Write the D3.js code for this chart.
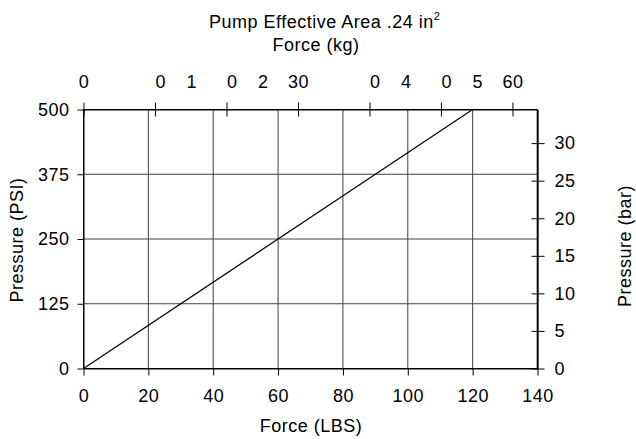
<!DOCTYPE html>
<html>
<head>
<meta charset="utf-8">
<script src="https://cdn.jsdelivr.net/npm/d3@7"></script>
<style>
  html, body { margin: 0; padding: 0; background: #fff; }
  svg text { font-family: "Liberation Sans", Arial, Helvetica, sans-serif; font-size: 18px; letter-spacing: 0.5px; fill: #000; }
</style>
</head>
<body>
<svg id="chart" width="636" height="439"></svg>
<script>
// ---- data ----
const forceLbs = [0, 120];
const pressurePsi = [0, 500];
const lbsTicks = [0, 20, 40, 60, 80, 100, 120, 140];
const psiTicks = [0, 125, 250, 375, 500];
const barTicks = [0, 5, 10, 15, 20, 25, 30];
const kgTicks = [0, 10, 20, 30, 40, 50, 60];
const kgTickLabels = ["0", "0 1", "0 2", "30", "0 4", "0 5", "60"];
const LBS_PER_KG = 2.20462;
const PSI_PER_BAR = 14.5038;

const svg = d3.select("#chart");
const x = d3.scaleLinear().domain([0, 140]).range([83.5, 537.5]);
const y = d3.scaleLinear().domain([0, 500]).range([368.5, 109.5]);

const gridColor = "#404040";

// grid
svg.append("g").selectAll("line").data(lbsTicks.filter(d => d > 0 && d < 140)).join("line")
  .attr("x1", d => x(d)).attr("x2", d => x(d)).attr("y1", y(0)).attr("y2", y(500))
  .attr("stroke", gridColor).attr("stroke-width", 1);
svg.append("g").selectAll("line").data(psiTicks.filter(d => d > 0 && d < 500)).join("line")
  .attr("x1", x(0)).attr("x2", x(140)).attr("y1", d => y(d)).attr("y2", d => y(d))
  .attr("stroke", gridColor).attr("stroke-width", 1);

// bottom axis
const gBottom = svg.append("g").attr("transform", `translate(0,${y(0)})`)
  .call(d3.axisBottom(x).tickValues(lbsTicks).tickSize(7).tickSizeOuter(0).tickPadding(14));
// left axis
const gLeft = svg.append("g").attr("transform", `translate(${x(0)},0)`)
  .call(d3.axisLeft(y).tickValues(psiTicks).tickSize(6).tickSizeOuter(0).tickPadding(8));
// right axis (bar), cross ticks
const yBarScale = d3.scaleLinear().domain([0, 500 / PSI_PER_BAR]).range([368.5, 109.5]);
const gRight = svg.append("g").attr("transform", `translate(${x(140)},0)`)
  .call(d3.axisRight(yBarScale).tickValues(barTicks).tickSize(7).tickSizeOuter(0).tickPadding(10));
gRight.selectAll(".tick line").attr("x1", -6);
// top axis (kg), cross ticks
const xKgScale = d3.scaleLinear().domain([0, 140 / LBS_PER_KG]).range([83.5, 537.5]);
const gTop = svg.append("g").attr("transform", `translate(0,${y(500)})`)
  .call(d3.axisTop(xKgScale).tickValues(kgTicks).tickSize(7).tickSizeOuter(0).tickFormat((d, i) => kgTickLabels[i]).tickPadding(15));
gTop.selectAll(".tick line").attr("y1", 7);
gTop.selectAll(".tick text")
  .attr("text-anchor", (d, i) => kgTickLabels[i].includes(" ") ? "start" : "middle")
  .attr("x", (d, i) => kgTickLabels[i].includes(" ") ? 0 : 0)
  .style("white-space", "pre")
  .attr("xml:space", "preserve")
  .style("word-spacing", "15px");

[gBottom, gLeft, gRight, gTop].forEach(g => {
  g.attr("font-family", null).attr("font-size", null);
  g.select(".domain").attr("stroke", "#000").attr("stroke-width", 1);
  g.selectAll(".tick line").attr("stroke", "#000");
});

// frame
svg.append("rect").attr("x", x(0)).attr("y", y(500)).attr("width", x(140) - x(0)).attr("height", y(0) - y(500))
  .attr("fill", "none").attr("stroke", "#000").attr("stroke-width", 1);
svg.append("line").attr("x1", x(140)).attr("x2", x(140)).attr("y1", y(0)).attr("y2", y(500))
  .attr("stroke", "#000").attr("stroke-width", 1.6);

// data line
svg.append("path")
  .datum(forceLbs.map((f, i) => [f, pressurePsi[i]]))
  .attr("d", d3.line().x(d => x(d[0])).y(d => y(d[1])))
  .attr("fill", "none").attr("stroke", "#000").attr("stroke-width", 1.2);

// titles
const title = svg.append("text").attr("x", 209).attr("y", 28).attr("text-anchor", "start");
title.append("tspan").text("Pump Effective Area .24 in");
title.append("tspan").attr("dy", -8).style("font-size", "11px").text("2");
svg.append("text").attr("x", 316).attr("y", 51).attr("text-anchor", "middle").text("Force (kg)");
svg.append("text").attr("x", 311).attr("y", 432).attr("text-anchor", "middle").text("Force (LBS)");
svg.append("text").attr("transform", "translate(23,240) rotate(-90)").attr("text-anchor", "middle").text("Pressure (PSI)");
svg.append("text").attr("transform", "translate(631,246) rotate(-90)").attr("text-anchor", "middle").text("Pressure (bar)");
</script>
</body>
</html>
